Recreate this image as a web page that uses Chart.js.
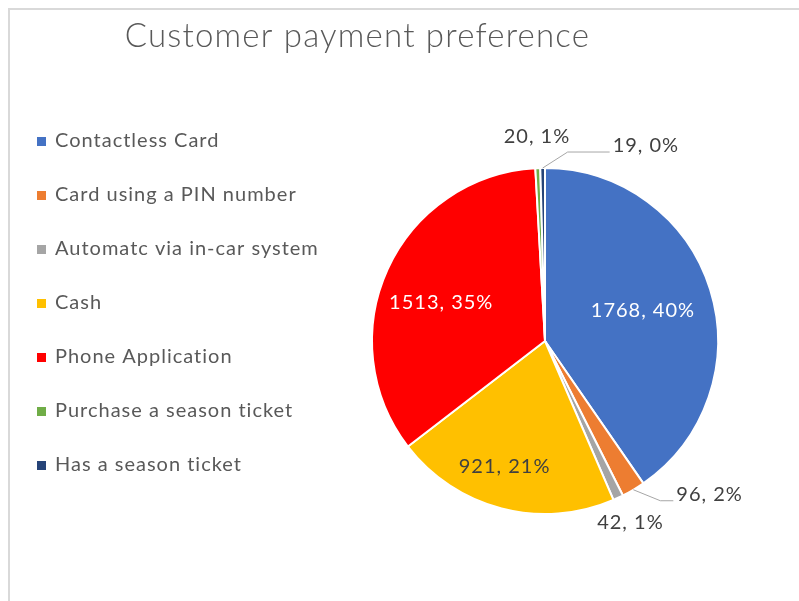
<!DOCTYPE html>
<html>
<head>
<meta charset="utf-8">
<script src="https://cdn.jsdelivr.net/npm/chart.js@4.4.1/dist/chart.umd.min.js"></script>
<style>
  html, body { margin: 0; padding: 0; background: #fff; }
  #wrap { position: relative; width: 799px; height: 601px; overflow: hidden; }
  #frame { position: absolute; left: 8px; top: 8px; width: 900px; height: 700px;
           border-left: 2px solid #d9d9d9; border-top: 2px solid #d9d9d9; }
  canvas { position: absolute; left: 0; top: 0; }
</style>
</head>
<body>
<div id="wrap">
  <div id="frame"></div>
  <canvas id="pie" width="799" height="601"></canvas>
</div>
<script>
// values
const categories = [
    'Contactless Card',
    'Card using a PIN number',
    'Automatc via in-car system',
    'Cash',
    'Phone Application',
    'Purchase a season ticket',
    'Has a season ticket',
];
const counts = [1768, 96, 42, 921, 1513, 20, 19];
const percentLabels = ['40%', '2%', '1%', '21%', '35%', '1%', '0%'];

const colors = ['#4472C4', '#ED7D31', '#A5A5A5', '#FFC000', '#FF0000', '#70AD47', '#264478'];
const FONT = 'Lato, "Open Sans", sans-serif';

// how each data label is placed (k = fraction of radius along the slice's mid angle)
const labelPlacement = [
    { type: 'in', k: 0.59, dx: 0, dy: 0, color: '#ffffff' },
    { type: 'leader', elbow: [27, 11], run: 13 },
    { type: 'out', k: 1.16, dx: 0, dy: 0 },
    { type: 'in', k: 0.78, dx: -7, dy: -5, color: '#404040' },
    { type: 'in', k: 0.65, dx: -2, dy: 8, color: '#ffffff' },
    { type: 'out', k: 1.18, dx: 0, dy: 0 },
    { type: 'leader', elbow: [25, -16], run: 42 },
];

function spacedText(ctx, text, x, y, align) {
    // letterSpacing adds a trailing gap, so centre on the visible width
    const w = ctx.measureText(text).width - 1;
    let sx = x;
    if (align === 'center') sx = x - w / 2;
    ctx.textAlign = 'left';
    ctx.fillText(text, sx, y);
}

const frameDecor = {
    id: 'frameDecor',
    afterDraw(chart) {
        const ctx = chart.ctx;
        ctx.save();
        // title
        ctx.fillStyle = '#595959';
        ctx.font = '300 33px ' + FONT;
        ctx.letterSpacing = '1.2px';
        ctx.textBaseline = 'middle';
        spacedText(ctx, 'Customer payment preference', 357, 36, 'center');

        // legend
        ctx.font = '20px ' + FONT;
        ctx.letterSpacing = '1px';
        chart.data.labels.forEach((lab, i) => {
            const y = 141 + i * 54;
            ctx.fillStyle = colors[i];
            ctx.fillRect(37, y - 4, 9, 9);
            ctx.fillStyle = '#595959';
            spacedText(ctx, lab, 55, y, 'left');
        });
        ctx.restore();
    },
};

const sliceLabels = {
    id: 'sliceLabels',
    afterDatasetsDraw(chart) {
        const ctx = chart.ctx;
        const arcs = chart.getDatasetMeta(0).data;
        ctx.save();
        ctx.font = '20px ' + FONT;
        ctx.letterSpacing = '1px';
        ctx.textBaseline = 'middle';
        arcs.forEach((arc, i) => {
            const p = labelPlacement[i];
            const text = counts[i] + ', ' + percentLabels[i];
            const { x, y, startAngle, endAngle, outerRadius } = arc.getProps(['x', 'y', 'startAngle', 'endAngle', 'outerRadius'], true);
            const mid = (startAngle + endAngle) / 2;
            const cos = Math.cos(mid), sin = Math.sin(mid);
            if (p.type === 'in' || p.type === 'out') {
                ctx.fillStyle = p.color || '#404040';
                spacedText(ctx, text, x + cos * p.k * outerRadius + p.dx, y + sin * p.k * outerRadius + p.dy, 'center');
            } else {
                const ex = x + cos * outerRadius, ey = y + sin * outerRadius;
                const bx = ex + p.elbow[0], by = ey + p.elbow[1];
                const tx = bx + p.run;
                ctx.strokeStyle = '#a6a6a6';
                ctx.lineWidth = 1;
                ctx.beginPath();
                ctx.moveTo(ex, ey);
                ctx.lineTo(bx, by);
                ctx.lineTo(tx, by);
                ctx.stroke();
                ctx.fillStyle = '#404040';
                spacedText(ctx, text, tx + 3, by - 6, 'left');
            }
        });
        ctx.restore();
    },
};

new Chart(document.getElementById('pie'), {
    type: 'pie',
    data: {
        labels: categories,
        datasets: [{
            data: counts,
            backgroundColor: colors,
            borderColor: '#ffffff',
            borderWidth: 2,
        }],
    },
    options: {
        responsive: false,
        animation: false,
        events: [],
        layout: { padding: { left: 371, right: 80, top: 167, bottom: 86 } },
        plugins: {
            legend: { display: false },
            title: { display: false },
            tooltip: { enabled: false },
        },
    },
    plugins: [sliceLabels, frameDecor],
});
</script>
</body>
</html>
